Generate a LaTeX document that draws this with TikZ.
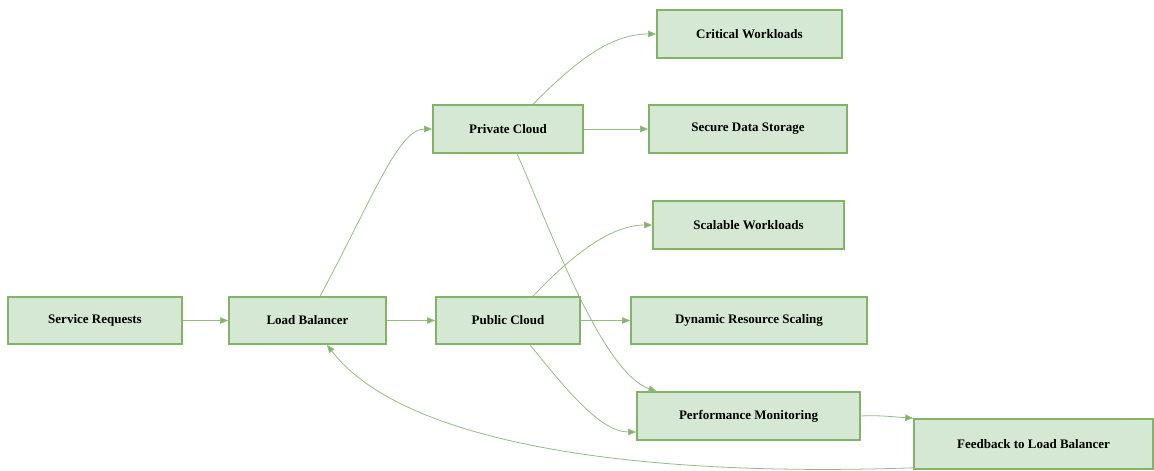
\documentclass[tikz,border=0pt]{standalone}
\usepackage{fontspec}
\setmainfont{Liberation Serif}
\usetikzlibrary{arrows.meta}
\definecolor{boxfill}{HTML}{D5E8D4}
\definecolor{boxline}{HTML}{82B366}
\definecolor{edgeline}{HTML}{93BD80}
\tikzset{
  box/.style={draw=boxline, fill=boxfill, line width=1.6pt, inner sep=0pt,
    minimum height=47pt, font=\fontsize{13}{15}\selectfont\bfseries, text=black},
  link/.style={draw=edgeline, line width=0.8pt,
    -{Triangle[width=6.5pt,length=8pt,fill=boxline]}}
}
\begin{document}
\begin{tikzpicture}[x=1pt,y=-1pt]
\useasboundingbox (0,0) rectangle (1154,471);
\node[box, minimum width=174pt] (sr)  at (95,320.5)   {Service Requests};
\node[box, minimum width=157pt] (lb)  at (307.5,320.5) {Load Balancer};
\node[box, minimum width=150pt, minimum height=48pt] (pri) at (508,129) {Private Cloud};
\node[box, minimum width=144pt] (pub) at (508,320.5) {Public Cloud};
\node[box, minimum width=185pt, minimum height=48pt] (cw)  at (749.5,34)  {Critical Workloads};
\node[box, minimum width=198pt, minimum height=48pt] (sds) at (748,129)   {Secure Data Storage};
\node[box, minimum width=191pt, minimum height=48pt] (sw)  at (748.5,225) {Scalable Workloads};
\node[box, minimum width=236pt] (drs) at (749,320.5) {Dynamic Resource Scaling};
\node[box, minimum width=223pt, minimum height=48pt] (pm)  at (748.5,416) {Performance Monitoring};
\node[box, minimum width=239pt, minimum height=50pt] (fb)  at (1033.5,444) {Feedback to Load Balancer};

\draw[link] (sr.east) -- (lb.west);
\draw[link] (lb.east) -- (pub.west);
\draw[link] (pri.east) -- (sds.west);
\draw[link] (pub.east) -- (drs.west);

\coordinate (lbtop) at ([xshift=12.5pt]lb.north);
\draw[link] (lbtop) .. controls (372,200) and (398,129) .. (pri.west);

\coordinate (pritop) at ([xshift=25pt]pri.north);
\draw[link] (pritop) .. controls (575,62) and (610,34) .. (cw.west);

\coordinate (pribot) at ([xshift=9pt]pri.south);
\coordinate (pmtop) at ([xshift=-92pt]pm.north);
\draw[link] (pribot) .. controls (545,215) and (600,372) .. (pmtop);

\coordinate (pubtop) at ([xshift=25pt]pub.north);
\draw[link] (pubtop) .. controls (570,257) and (610,225) .. (sw.west);

\coordinate (pubbot) at ([xshift=22pt]pub.south);
\coordinate (pmleft) at ([yshift=-16pt]pm.west);
\draw[link] (pubbot) .. controls (565,388) and (600,432) .. (pmleft);

\coordinate (pmright) at (pm.east);
\draw[link] (pmright) .. controls (880,415) and (895,417) .. (fb.north west);

\coordinate (fbleft) at ([yshift=2pt]fb.south west);
\coordinate (lbbot) at ([xshift=19.5pt]lb.south);
\draw[link] (fbleft) .. controls (620,478) and (400,440) .. (lbbot);
\end{tikzpicture}
\end{document}
